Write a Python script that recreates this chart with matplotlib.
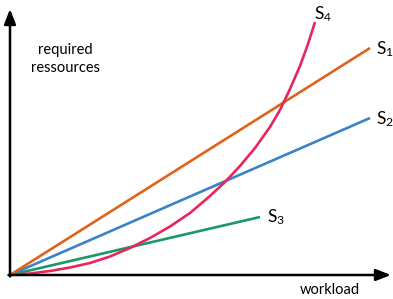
import matplotlib.pyplot as plt

# data coordinates: origin of the drawn axes at (0, 0), units ~ pixels
s1_x = [0, 360]
s1_y = [0, 227]
s2_x = [0, 360]
s2_y = [0, 157]
s3_x = [0, 250]
s3_y = [0, 58]
s4_x = [0, 20, 40, 60, 80, 100, 120, 140, 160, 180, 200, 215, 230, 245, 260, 270, 280, 290, 298, 305]
s4_y = [0, 1.5, 4, 7.5, 12, 18.5, 27, 37, 48.5, 62, 79, 93, 109, 127, 148, 165, 186, 209, 231, 253]

labels = ["S$_1$", "S$_2$", "S$_3$", "S$_4$"]

plt.rcParams['font.family'] = ['Lato', 'DejaVu Sans']
plt.rcParams['mathtext.fontset'] = 'custom'
plt.rcParams['mathtext.rm'] = 'Lato'
plt.rcParams['mathtext.it'] = 'Lato'

fig = plt.figure(figsize=(3.93, 2.99), dpi=100)
ax = fig.add_axes([0, 0, 1, 1])
ax.set_xlim(-10, 383)
ax.set_ylim(-24, 275)
ax.axis('off')

# axes with arrows
ax.annotate("", xy=(0, 266), xytext=(0, -1.5),
            arrowprops=dict(arrowstyle="-|>,head_width=0.35,head_length=0.9", lw=1.8, color='black',
                            shrinkA=0, shrinkB=0))
ax.annotate("", xy=(381, 0), xytext=(-1.5, 0),
            arrowprops=dict(arrowstyle="-|>,head_width=0.35,head_length=0.9", lw=1.8, color='black',
                            shrinkA=0, shrinkB=0))

lw = 1.9
ax.plot(s3_x, s3_y, color='#1c9868', lw=lw, solid_capstyle='butt')
ax.plot(s2_x, s2_y, color='#3c82c8', lw=lw, solid_capstyle='butt')
ax.plot(s1_x, s1_y, color='#e0631c', lw=lw, solid_capstyle='butt')
ax.plot(s4_x, s4_y, color='#e8265e', lw=lw, solid_capstyle='butt', solid_joinstyle='round')

fs = 12.5
ax.text(366, 226, labels[0], fontsize=fs, va='center', ha='left')
ax.text(366, 156, labels[1], fontsize=fs, va='center', ha='left')
ax.text(257, 58, labels[2], fontsize=fs, va='center', ha='left')
ax.text(304, 261, labels[3], fontsize=fs, va='center', ha='left')

ax.text(55, 216, "required\nressources", fontsize=10.5, ha='center', va='center', linespacing=1.35)
ax.text(320, -15.5, "workload", fontsize=10.5, ha='center', va='center')

fig.savefig("out.png", dpi=100)
